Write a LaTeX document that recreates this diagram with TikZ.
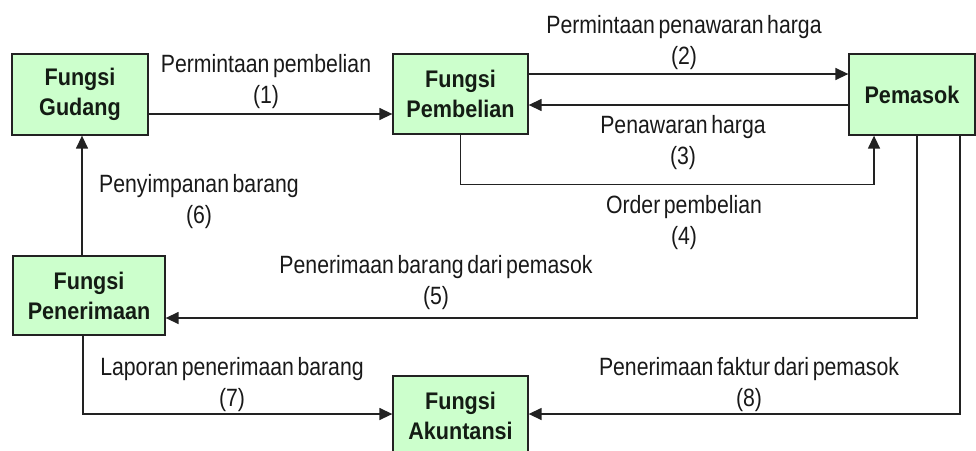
\documentclass[tikz,border=0pt]{standalone}
\usepackage{fontspec}
\usetikzlibrary{arrows.meta}
\newfontfamily\diagfont[FakeStretch=0.9]{Liberation Sans}
\newfontfamily\flowfont[FakeStretch=0.85,WordSpace=0.6]{Liberation Sans}
\definecolor{boxfill}{RGB}{204,255,204}
\definecolor{inkline}{RGB}{34,34,34}
\definecolor{inktext}{RGB}{20,28,20}
\begin{document}
\begin{tikzpicture}[x=1pt,y=-1pt,
  unit/.style={draw=inkline,line width=1.3pt,fill=boxfill,inner sep=0pt,
    align=center,text=inktext,font=\diagfont\bfseries\fontsize{24}{30}\selectfont},
  flow/.style={draw=inkline,line width=1.4pt,-{Triangle[length=13pt,width=12pt]}},
  lbl/.style={align=center,inner sep=0pt,text=black!90,
    font=\flowfont\fontsize{25}{31}\selectfont}]
\useasboundingbox (0,0) rectangle (976,450);

% functional units
\node[unit,minimum width=136pt,minimum height=81pt] (gudang) at (80,94.5) {Fungsi\\Gudang};
\node[unit,minimum width=135pt,minimum height=80pt] (pembelian) at (460.5,94) {Fungsi\\Pembelian};
\node[unit,minimum width=126pt,minimum height=81pt] (pemasok) at (912,94.5) {Pemasok};
\node[unit,minimum width=152pt,minimum height=79pt] (penerimaan) at (89,295.5) {Fungsi\\Penerimaan};
\node[unit,minimum width=135pt,minimum height=79pt] (akuntansi) at (460.5,415.5) {Fungsi\\Akuntansi};

% document flows
\draw[flow] ([yshift=-19.5pt]gudang.east) coordinate (f1) -- (f1 -| pembelian.west);
\draw[flow] ([yshift=20pt]pembelian.east) coordinate (f2) -- (f2 -| pemasok.west);
\draw[flow] ([yshift=-10.5pt]pemasok.west) coordinate (f3) -- (f3 -| pembelian.east);
\draw[flow] (pembelian.south) -- ++(0,50) -| ([xshift=-38pt]pemasok.south);
\draw[flow] ([xshift=5pt]pemasok.south) |- ([yshift=-22.5pt]penerimaan.east);
\draw[flow] ([xshift=-7pt]penerimaan.north) coordinate (f6) -- (f6 |- gudang.south);
\draw[flow] ([xshift=-6pt]penerimaan.south) |- ([yshift=1.5pt]akuntansi.west);
\draw[flow] ([xshift=48pt]pemasok.south) |- ([yshift=1.5pt]akuntansi.east);

% flow labels
\node[lbl] (l1) at (266,82) {Permintaan pembelian\\(1)};
\node[lbl] (l2) at (684,43) {Permintaan penawaran harga\\(2)};
\node[lbl] (l3) at (683,143) {Penawaran harga\\(3)};
\node[lbl] (l4) at (684,223) {Order pembelian\\(4)};
\node[lbl] (l5) at (436,283) {Penerimaan barang dari pemasok\\(5)};
\node[lbl] (l6) at (199,202) {Penyimpanan barang\\(6)};
\node[lbl] (l7) at (232,385) {Laporan penerimaan barang\\(7)};
\node[lbl] (l8) at (749,385) {Penerimaan faktur dari pemasok\\(8)};
\end{tikzpicture}
\end{document}
